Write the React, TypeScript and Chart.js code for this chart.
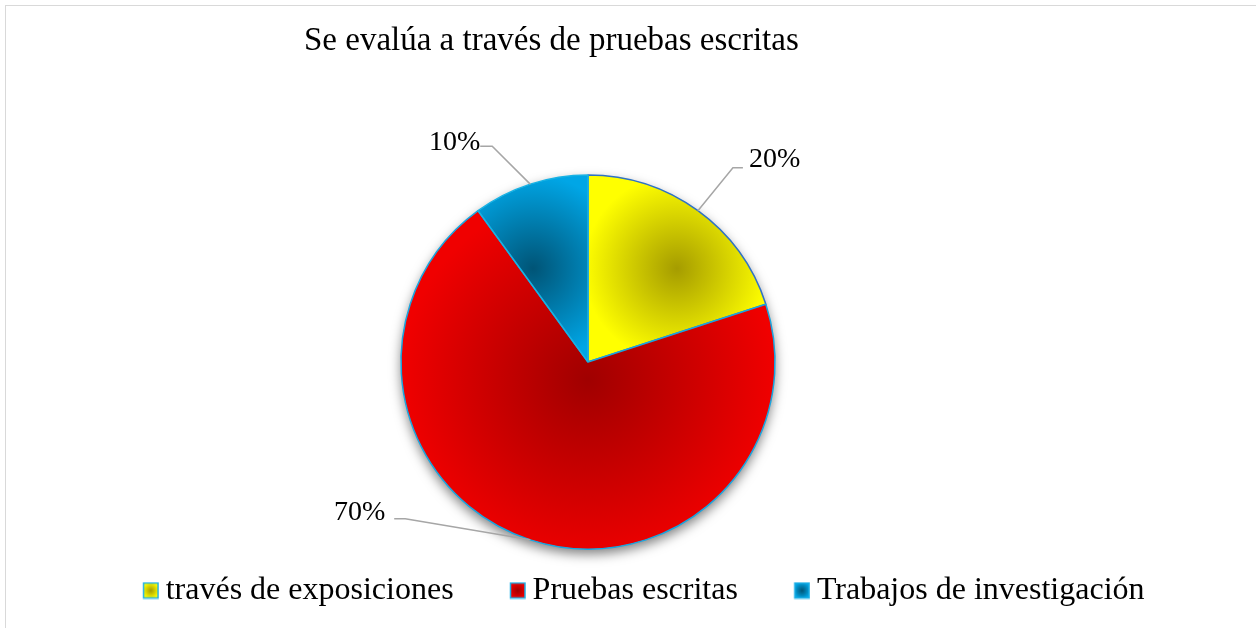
import React, { useEffect, useRef } from 'react';
import { Chart, registerables } from 'chart.js';

Chart.register(...registerables);

const TITLE = 'Se evalúa a través de pruebas escritas';
const categories = ['través de exposiciones', 'Pruebas escritas', 'Trabajos de investigación'];
const values = [20, 70, 10];

const darkColors = ['#a59c00', '#a00000', '#005476'];
const brightColors = ['#ffff00', '#f00000', '#00a6e6'];
const borderColors = ['#2f72c4', '#18a6e0', '#18b2e4'];

const FONT = '"Liberation Serif", "Times New Roman", serif';

function sectorGradient(ctx: CanvasRenderingContext2D, cx: number, cy: number, r: number, a0: number, a1: number, i: number) {
  const pts: number[][] = [[cx, cy], [cx + r * Math.cos(a0), cy + r * Math.sin(a0)], [cx + r * Math.cos(a1), cy + r * Math.sin(a1)]];
  for (let k = -4; k <= 8; k++) {
    const a = (k * Math.PI) / 2;
    if (a > a0 && a < a1) pts.push([cx + r * Math.cos(a), cy + r * Math.sin(a)]);
  }
  const xs = pts.map((p) => p[0]);
  const ys = pts.map((p) => p[1]);
  const minX = Math.min(...xs), maxX = Math.max(...xs), minY = Math.min(...ys), maxY = Math.max(...ys);
  const gx = (minX + maxX) / 2, gy = (minY + maxY) / 2;
  const gr = Math.max(maxX - minX, maxY - minY) / 2;
  const g = ctx.createRadialGradient(gx, gy, 0, gx, gy, gr);
  g.addColorStop(0, darkColors[i]);
  g.addColorStop(1, brightColors[i]);
  return g;
}

function makeMarker(i: number) {
  const c = document.createElement('canvas');
  c.width = 57;
  c.height = 18;
  const g = c.getContext('2d')!;
  const x0 = 41.5, y0 = 1.5, w = 14.5, h = 15;
  const grad = g.createRadialGradient(x0 + w / 2, y0 + h / 2, 0, x0 + w / 2, y0 + h / 2, w / 2 + 1);
  grad.addColorStop(0, darkColors[i]);
  grad.addColorStop(1, brightColors[i]);
  g.fillStyle = grad;
  g.fillRect(x0, y0, w, h);
  g.lineWidth = 1.5;
  g.strokeStyle = '#1fb0e6';
  g.strokeRect(x0, y0, w, h);
  return c;
}

// leader-line geometry for the data labels (relative to the slice edge)
const leaderLayout = [
  { dx: 35, dy: -43, run: 10, gap: 6, side: 1, base: -1 },
  { dx: -125, dy: -21, run: 11, gap: 9, side: -1, base: 1 },
  { dx: -38, dy: -38, run: 12, gap: 0, side: -1, base: 4 },
];

const shadowPlugin = {
  id: 'pieShadow',
  beforeDatasetsDraw(chart: any) {
    const arc = chart.getDatasetMeta(0).data[0];
    if (!arc) return;
    const { x, y, outerRadius } = arc.getProps(['x', 'y', 'outerRadius'], true);
    const ctx = chart.ctx;
    ctx.save();
    ctx.shadowColor = 'rgba(0,0,0,0.5)';
    ctx.shadowBlur = 12;
    ctx.shadowOffsetY = 5;
    ctx.beginPath();
    ctx.arc(x, y, outerRadius, 0, Math.PI * 2);
    ctx.fillStyle = '#ffffff';
    ctx.fill();
    ctx.restore();
  },
};

const labelPlugin = {
  id: 'leaderLabels',
  afterDatasetsDraw(chart: any) {
    const ctx = chart.ctx;
    const meta = chart.getDatasetMeta(0);
    const data = chart.data.datasets[0].data as number[];
    const total = data.reduce((a, b) => a + b, 0);
    meta.data.forEach((arc: any, i: number) => {
      const p = arc.getProps(['x', 'y', 'startAngle', 'endAngle', 'outerRadius'], true);
      const mid = (p.startAngle + p.endAngle) / 2;
      const ex = p.x + p.outerRadius * Math.cos(mid);
      const ey = p.y + p.outerRadius * Math.sin(mid);
      const L = leaderLayout[i];
      const bx = ex + L.dx, by = ey + L.dy;
      const hx = bx + L.side * L.run;
      ctx.save();
      ctx.strokeStyle = '#a6a6a6';
      ctx.lineWidth = 1.5;
      ctx.beginPath();
      ctx.moveTo(ex, ey);
      ctx.lineTo(bx, by);
      ctx.lineTo(hx, by);
      ctx.stroke();
      ctx.fillStyle = '#000';
      ctx.font = `28px ${FONT}`;
      ctx.textBaseline = 'alphabetic';
      ctx.textAlign = L.side > 0 ? 'left' : 'right';
      const txt = `${Math.round((data[i] / total) * 100)}%`;
      ctx.fillText(txt, hx + L.side * L.gap, by + L.base);
      ctx.restore();
    });
  },
};

export default function App() {
  const ref = useRef<HTMLCanvasElement>(null);
  useEffect(() => {
    const canvas = ref.current!;
    const markers = categories.map((_, i) => makeMarker(i));
    const total = values.reduce((a, b) => a + b, 0);
    const chart = new Chart(canvas, {
      type: 'pie',
      data: {
        labels: categories,
        datasets: [
          {
            data: values,
            backgroundColor: (c: any) => {
              const chart = c.chart;
              const area = chart.chartArea;
              const i = c.dataIndex;
              if (!area || c.type !== 'data') return brightColors[i];
              const cx = (area.left + area.right) / 2;
              const cy = (area.top + area.bottom) / 2;
              const r = (Math.min(area.right - area.left, area.bottom - area.top) - 1.5) / 2;
              let before = 0;
              for (let k = 0; k < i; k++) before += values[k];
              const a0 = -Math.PI / 2 + (2 * Math.PI * before) / total;
              const a1 = a0 + (2 * Math.PI * values[i]) / total;
              return sectorGradient(chart.ctx, cx, cy, r, a0, a1, i);
            },
            borderColor: borderColors,
            borderWidth: 1.5,
            hoverOffset: 0,
          } as any,
        ],
      },
      options: {
        responsive: false,
        devicePixelRatio: 1,
        animation: false,
        events: [],
        layout: { padding: { top: 0, left: 0, right: 0, bottom: 11.5 } },
        scales: {
          padLeft: {
            type: 'linear',
            axis: 'y',
            position: 'left',
            display: true,
            grid: { display: false },
            border: { display: false },
            ticks: { display: false },
            afterFit: (s: any) => {
              s.width = 304;
            },
          },
          padRight: {
            type: 'linear',
            axis: 'y',
            position: 'right',
            display: true,
            grid: { display: false },
            border: { display: false },
            ticks: { display: false },
            afterFit: (s: any) => {
              s.width = 384;
            },
          },
        } as any,
        plugins: {
          title: {
            display: true,
            text: TITLE,
            align: 'start',
            fullSize: false,
            color: '#000',
            font: { family: FONT, size: 33, weight: 'normal' },
            padding: { top: 21.1, bottom: 113.55 },
          },
          legend: {
            display: true,
            position: 'bottom',
            align: 'center',
            labels: {
              usePointStyle: true,
              pointStyleWidth: 38.25,
              padding: 24.75,
              color: '#000',
              font: { family: FONT, size: 32 },
              generateLabels: () =>
                categories.map((text, i) => ({
                  text,
                  fillStyle: brightColors[i],
                  strokeStyle: '#1fb0e6',
                  lineWidth: 0,
                  pointStyle: markers[i],
                  hidden: false,
                  index: i,
                  datasetIndex: 0,
                  fontColor: '#000',
                })),
            },
          },
          tooltip: { enabled: false },
        },
      } as any,
      plugins: [shadowPlugin, labelPlugin],
    });
    return () => chart.destroy();
  }, []);

  return (
    <div style={{ position: 'fixed', left: 0, top: 0, width: 1256, height: 628, overflow: 'hidden', background: '#fff' }}>
      <div
        style={{
          position: 'absolute',
          left: 5,
          top: 5,
          width: 1300,
          height: 700,
          border: '1.5px solid #d9d9d9',
          boxSizing: 'border-box',
        }}
      />
      <canvas
        ref={ref}
        width={1256}
        height={628}
        style={{ position: 'absolute', left: 0, top: 0, width: 1256, height: 628, display: 'block' }}
      />
    </div>
  );
}
